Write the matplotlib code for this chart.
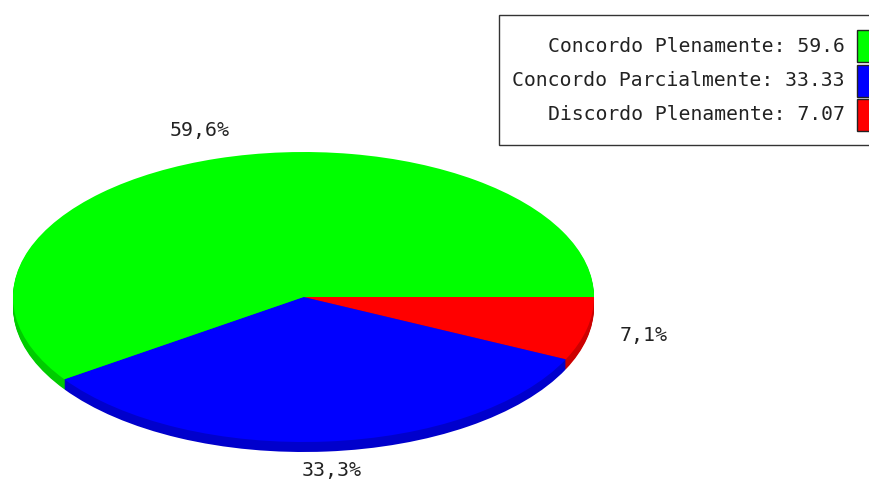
import matplotlib
matplotlib.use("Agg")
import matplotlib.pyplot as plt
from matplotlib.patches import Rectangle

categories = ["Concordo Plenamente", "Concordo Parcialmente", "Discordo Plenamente"]
values = [59.6, 33.33, 7.07]
colors = ["#00ff00", "#0000ff", "#ff0000"]
side_colors = ["#00cc00", "#0000cc", "#cc0000"]

W, H = 870, 480
fig = plt.figure(figsize=(W / 100, H / 100), dpi=100)
font = "DejaVu Sans Mono"

# pie box in pixels (top surface)
px0, py0, pw, ph = 13, 152, 581, 290
depth = 10

def pie_axes(dy):
    return fig.add_axes([px0 / W, (H - py0 - ph - dy) / H, pw / W, ph / H])

# slices go clockwise from 3 o'clock: red, blue, green
order = [2, 1, 0]
vals = [values[i] for i in order]

# side of the "3d" pie: stack of shifted copies
for d in range(depth, 0, -1):
    a = pie_axes(d)
    a.pie(vals, colors=[side_colors[i] for i in order], startangle=0,
          counterclock=False, wedgeprops=dict(linewidth=0))
    a.set_aspect("auto")
    a.set_xlim(-1, 1)
    a.set_ylim(-1, 1)
    a.axis("off")

ax_top = pie_axes(0)
wedges, _, autotexts = ax_top.pie(
    vals, colors=[colors[i] for i in order], startangle=0, counterclock=False,
    wedgeprops=dict(linewidth=0), autopct=lambda p: f"{p:.1f}%".replace(".", ","),
    pctdistance=1.2)
for t in autotexts:
    t.set_fontfamily(font)
    t.set_fontsize(14.3)
    t.set_color("#222222")
ax_top.set_aspect("auto")
ax_top.set_xlim(-1, 1)
ax_top.set_ylim(-1, 1)
ax_top.axis("off")

# legend overlay in pixel coords
ax = fig.add_axes([0, 0, 1, 1], zorder=5)
ax.set_xlim(0, W)
ax.set_ylim(H, 0)
ax.axis("off")
ax.add_patch(Rectangle((499.5, 14.5), 400, 130, facecolor="white",
                       edgecolor="#333333", linewidth=1))
for k, (name, v, c) in enumerate(zip(categories, values, colors)):
    yc = 46 + k * 34.5
    ax.text(845, yc, f"{name}: {v:g}", ha="right", va="center",
            fontfamily=font, fontsize=14.2, color="#222222")
    ax.add_patch(Rectangle((857, yc - 16), 20, 32, facecolor=c,
                           edgecolor="#222222", linewidth=1))

fig.savefig("out.png", dpi=100)
